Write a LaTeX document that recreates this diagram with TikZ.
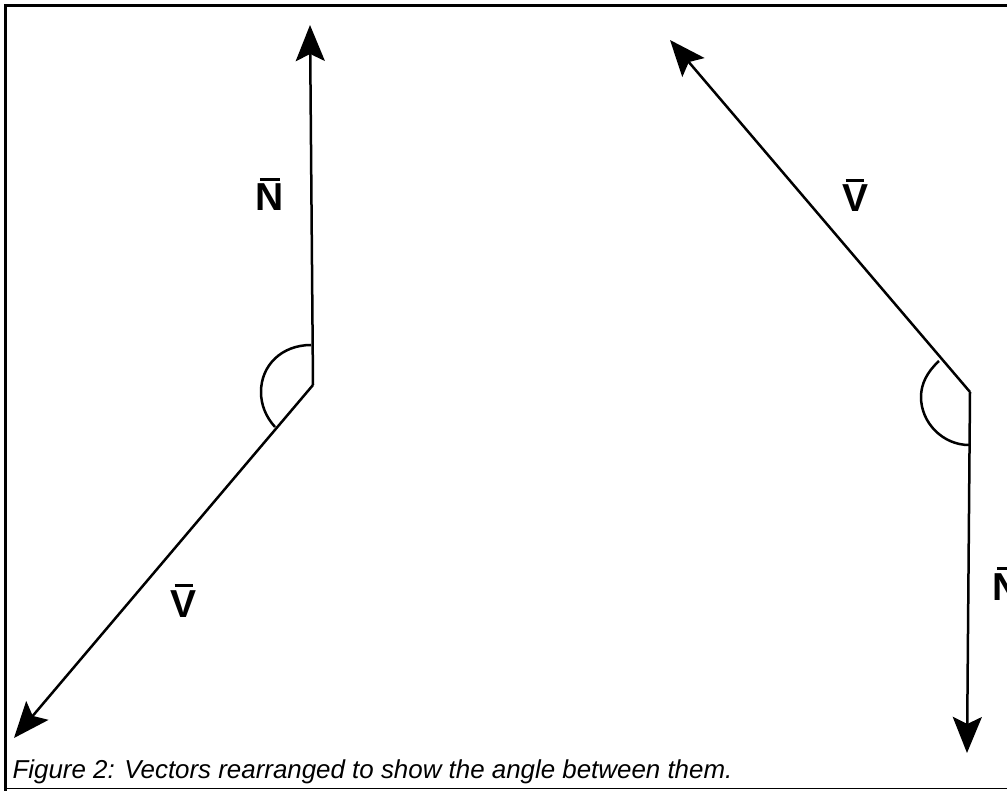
\documentclass[tikz,border=0pt]{standalone}
\usepackage{fontspec}
\setmainfont{Liberation Sans}
\usetikzlibrary{arrows.meta}

\newsavebox\letterbox
\newcommand{\barvec}[1]{\sbox\letterbox{#1}\rlap{\usebox\letterbox}\hbox to\wd\letterbox{\hss\raisebox{1.1\ht\letterbox}{\rule{0.72\wd\letterbox}{0.14\ht\letterbox}}\hss}}

\tikzset{
  vec/.style={line width=2.5pt, -{Stealth[length=36pt, width=29pt, inset=7pt]}},
  arc/.style={line width=2.5pt},
  label/.style={anchor=base, font=\fontsize{39}{40}\selectfont\bfseries},
}

\begin{document}
\begin{tikzpicture}[x=1pt, y=-1pt]
        \useasboundingbox (0,0) rectangle (1007,791);
        % frame
        \draw[line width=3pt] (1020,5.5) -- (5.5,5.5) -- (5.5,795);
        \draw[line width=1.5pt] (5.5,788.5) -- (1020,788.5);
        % left pair
        \coordinate (O1) at (313,385);
        \coordinate (N1) at (310,25);
        \coordinate (V1) at (14,738);
        \draw[vec] (O1) -- (N1);
        \draw[vec] (O1) -- (V1);
        \draw[arc] (311,345) .. controls (282,345) and (261,365) .. (261,392) .. controls (261,405) and (266,417) .. (275,427);
        \node[label] (labN1) at (270,211) {\barvec{N}};
        \node[label] (labV1) at (184,617) {\barvec{V}};
        % right pair
        \coordinate (O2) at (970,392);
        \coordinate (V2) at (670,40);
        \coordinate (N2) at (967,753);
        \draw[vec] (O2) -- (V2);
        \draw[vec] (O2) -- (N2);
        \draw[arc] (939,361) .. controls (927,372) and (921,384) .. (921,397) .. controls (921,423) and (943,445) .. (969,445);
        \node[label] (labV2) at (855,212) {\barvec{V}};
        \node[label] (labN2) at (1007,600) {\barvec{N}};
        \node[anchor=base west, font=\fontsize{25.9}{30}\selectfont\itshape] (caption) at (9,778) {Figure 2: Vectors rearranged to show the angle between them.};
    \end{tikzpicture}
\end{document}
